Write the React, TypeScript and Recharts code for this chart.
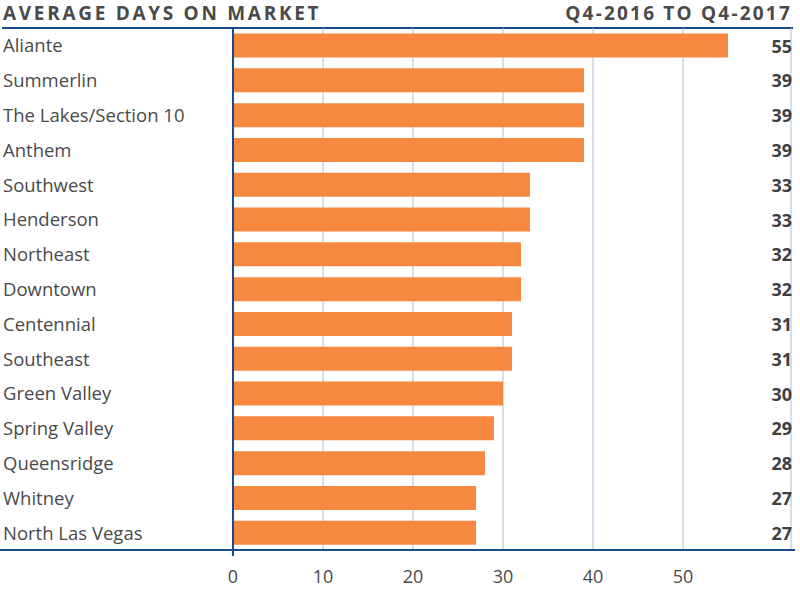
import React from 'react';
import { BarChart, Bar, XAxis, YAxis, CartesianGrid, LabelList } from 'recharts';

const areas = [
  'Aliante',
  'Summerlin',
  'The Lakes/Section 10',
  'Anthem',
  'Southwest',
  'Henderson',
  'Northeast',
  'Downtown',
  'Centennial',
  'Southeast',
  'Green Valley',
  'Spring Valley',
  'Queensridge',
  'Whitney',
  'North Las Vegas',
];
const days = [55, 39, 39, 39, 33, 33, 32, 32, 31, 31, 30, 29, 28, 27, 27];
const xTicks = [0, 10, 20, 30, 40, 50];

const data = areas.map((name, i) => ({ name, days: days[i] }));

const FONT = '"Open Sans", sans-serif';
const TEXT = '#4a4a4a';
const NAVY = '#1b4a8a';
const ORANGE = '#f6883f';
const W = 800;
const H = 600;
const RIGHT_EDGE = 792;

// eslint-disable-next-line @typescript-eslint/no-explicit-any
function LeftTick(props: any) {
  const { y, payload } = props;
  return (
    <text x={3} y={y} dy={7} textAnchor="start" fontSize={18.5} fill={TEXT} fontFamily={FONT}>
      {payload.value}
    </text>
  );
}

// eslint-disable-next-line @typescript-eslint/no-explicit-any
function ValueLabel(props: any) {
  const { y, height, value } = props;
  return (
    <text
      x={RIGHT_EDGE}
      y={y + height / 2}
      dy={7}
      textAnchor="end"
      fontSize={18}
      fontWeight={700}
      fill="#3f3f3f"
      fontFamily={FONT}
    >
      {value}
    </text>
  );
}

export default function App() {
  return (
    <div style={{ position: 'absolute', left: 0, top: 0, width: W, height: H, background: '#fff', fontFamily: FONT }}>
      <div
        style={{
          position: 'absolute',
          left: 3,
          top: 1,
          fontSize: 19,
          fontWeight: 700,
          letterSpacing: 2.7,
          color: TEXT,
          lineHeight: '24px',
        }}
      >
        AVERAGE DAYS ON MARKET
      </div>
      <div
        style={{
          position: 'absolute',
          right: 8,
          top: 1,
          fontSize: 19,
          fontWeight: 700,
          letterSpacing: 2.2,
          color: TEXT,
          lineHeight: '24px',
        }}
      >
        Q4-2016 TO Q4-2017
      </div>
      <div style={{ position: 'absolute', left: 2, top: 27, width: 791, height: 2, background: NAVY }} />

      <BarChart
        width={W}
        height={H}
        data={data}
        layout="vertical"
        margin={{ top: 28, right: 9, bottom: 10, left: 0 }}
        barCategoryGap="16%"
      >
        <CartesianGrid horizontal={false} stroke="#a9bfd8" strokeWidth={1} />
        <XAxis
          type="number"
          domain={[0, 62]}
          ticks={xTicks}
          height={40}
          axisLine={false}
          tickLine={false}
          tick={{ fontSize: 18, fill: TEXT, fontFamily: FONT, dy: 12 }}
        />
        <YAxis
          type="category"
          dataKey="name"
          width={233}
          axisLine={{ stroke: NAVY, strokeWidth: 2 }}
          tickLine={false}
          tick={<LeftTick />}
          interval={0}
        />
        <Bar dataKey="days" fill={ORANGE} isAnimationActive={false}>
          <LabelList dataKey="days" content={<ValueLabel />} />
        </Bar>
      </BarChart>

      <div style={{ position: 'absolute', left: 0, top: 549, width: 795, height: 2, background: NAVY }} />
      <div style={{ position: 'absolute', left: 232, top: 549, width: 2, height: 7, background: NAVY }} />
    </div>
  );
}
